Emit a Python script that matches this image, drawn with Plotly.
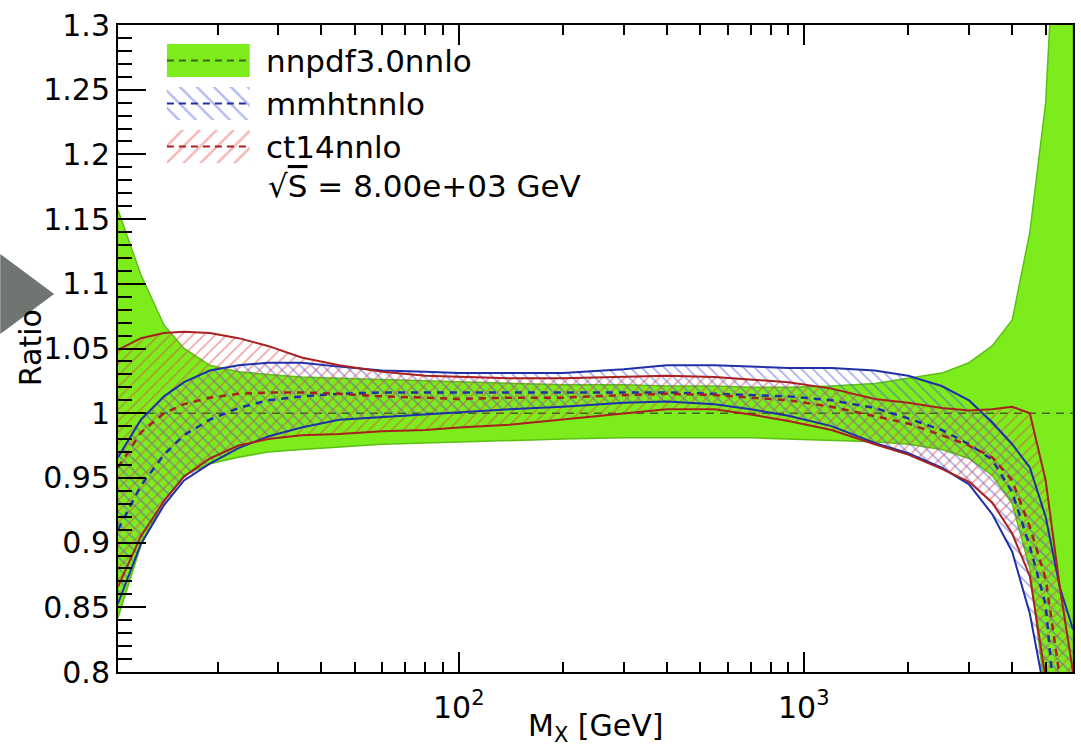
import math
import plotly.graph_objects as go

# ---------------- data ----------------
mass = [10.3, 12, 14, 16, 19, 23, 28, 35, 45, 60, 80, 100, 140, 200, 300, 400, 550,
        700, 900, 1200, 1600, 2000, 2500, 3000, 3500, 4000, 4500, 5000, 5500, 6000]

nnpdf_up = [1.157, 1.107, 1.068, 1.050, 1.037, 1.032, 1.030, 1.028, 1.027, 1.026, 1.025,
            1.024, 1.023, 1.022, 1.022, 1.021, 1.021, 1.020, 1.020, 1.021, 1.023, 1.027,
            1.031, 1.039, 1.052, 1.072, 1.14, 1.24, 1.45, 1.60]
nnpdf_c = [1.0] * len(mass)
nnpdf_lo = [0.842, 0.898, 0.933, 0.952, 0.961, 0.966, 0.970, 0.972, 0.974, 0.976, 0.977,
            0.978, 0.979, 0.980, 0.981, 0.981, 0.981, 0.981, 0.980, 0.979, 0.978, 0.976,
            0.972, 0.965, 0.952, 0.930, 0.88, 0.78, 0.65, 0.55]

mmht_up = [0.966, 0.995, 1.013, 1.024, 1.033, 1.037, 1.039, 1.039, 1.036, 1.033, 1.032,
           1.031, 1.031, 1.031, 1.034, 1.037, 1.037, 1.036, 1.035, 1.035, 1.033, 1.029,
           1.021, 1.010, 0.993, 0.976, 0.958, 0.920, 0.865, 0.833]
mmht_c = [0.910, 0.944, 0.968, 0.983, 0.995, 1.004, 1.010, 1.013, 1.015, 1.016, 1.016,
          1.016, 1.016, 1.016, 1.016, 1.016, 1.015, 1.014, 1.013, 1.010, 1.004, 0.996,
          0.987, 0.976, 0.964, 0.939, 0.897, 0.852, 0.72, 0.62]
mmht_lo = [0.853, 0.899, 0.929, 0.948, 0.961, 0.973, 0.982, 0.989, 0.995, 0.997, 0.999,
           1.001, 1.003, 1.005, 1.008, 1.009, 1.007, 1.003, 0.998, 0.990, 0.977, 0.969,
           0.958, 0.945, 0.922, 0.893, 0.845, 0.78, 0.65, 0.55]

ct14_up = [1.049, 1.058, 1.062, 1.063, 1.062, 1.058, 1.052, 1.043, 1.037, 1.032, 1.029,
           1.028, 1.027, 1.027, 1.028, 1.029, 1.028, 1.026, 1.024, 1.019, 1.011, 1.008,
           1.004, 1.002, 1.003, 1.005, 1.000, 0.948, 0.865, 0.80]
ct14_c = [0.958, 0.985, 1.000, 1.007, 1.012, 1.015, 1.016, 1.016, 1.015, 1.013, 1.012,
          1.011, 1.012, 1.012, 1.014, 1.015, 1.014, 1.012, 1.010, 1.005, 0.998, 0.992,
          0.983, 0.975, 0.966, 0.948, 0.912, 0.872, 0.795, 0.70]
ct14_lo = [0.866, 0.905, 0.932, 0.951, 0.965, 0.975, 0.980, 0.983, 0.984, 0.986, 0.987,
           0.989, 0.991, 0.995, 1.000, 1.003, 1.003, 0.999, 0.994, 0.987, 0.976, 0.968,
           0.957, 0.947, 0.931, 0.907, 0.874, 0.795, 0.70, 0.62]

labels = ["nnpdf3.0nnlo", "mmhtnnlo", "ct14nnlo"]
energy_label = "√<span style='text-decoration:overline'>S</span> = 8.00e+03 GeV"

y_tickvals = [0.8, 0.85, 0.9, 0.95, 1.0, 1.05, 1.1, 1.15, 1.2, 1.25, 1.3]
y_ticktext = ["0.8", "0.85", "0.9", "0.95", "1", "1.05", "1.1", "1.15", "1.2", "1.25", "1.3"]
x_tickvals = [100, 1000]
x_ticktext = ["10<sup>2</sup>", "10<sup>3</sup>"]
x_minor = [20, 30, 40, 50, 60, 70, 80, 90, 200, 300, 400, 500, 600, 700, 800, 900,
           2000, 3000, 4000, 5000]

# ---------------- style ----------------
FONT = "DejaVu Sans, Liberation Sans, Arial, sans-serif"
GREEN = "#7CEC1C"
GREEN_EDGE = "#5CC014"
GREEN_DASH = "#3E6420"
BLUE = "#2030A8"
BLUE_HATCH = "#4A58D8"
RED = "#A82020"
RED_HATCH = "#E04848"

W, H = 1081, 747
L, R, T, B = 118, 1075, 25, 672

fig = go.Figure()


def band(x, up, lo, **kw):
    return go.Scatter(x=list(x) + list(x)[::-1], y=list(up) + list(lo)[::-1],
                      mode="lines", fill="toself", hoverinfo="skip", showlegend=False, **kw)


def hatch(shape, color, size=8):
    return dict(shape=shape, fgcolor=color, bgcolor="rgba(0,0,0,0)", size=size, solidity=0.2)


# NNPDF band
fig.add_trace(band(mass, nnpdf_up, nnpdf_lo, fillcolor=GREEN,
                   line=dict(color=GREEN_EDGE, width=1.5)))
fig.add_trace(go.Scatter(x=mass, y=nnpdf_c, mode="lines", showlegend=False,
                         line=dict(color=GREEN_DASH, width=1.5, dash="8px,6px")))

# MMHT band (\ hatch) and CT14 band (/ hatch)
fig.add_trace(band(mass, mmht_up, mmht_lo, fillcolor="rgba(0,0,0,0)",
                   fillpattern=hatch("\\", BLUE_HATCH), line=dict(width=0)))
fig.add_trace(band(mass, ct14_up, ct14_lo, fillcolor="rgba(0,0,0,0)",
                   fillpattern=hatch("/", RED_HATCH), line=dict(width=0)))

for ys, col in [(mmht_up, BLUE), (mmht_lo, BLUE), (ct14_up, RED), (ct14_lo, RED)]:
    fig.add_trace(go.Scatter(x=mass, y=ys, mode="lines", showlegend=False,
                             line=dict(color=col, width=2)))
for ys, col in [(mmht_c, BLUE), (ct14_c, RED)]:
    fig.add_trace(go.Scatter(x=mass, y=ys, mode="lines", showlegend=False,
                             line=dict(color=col, width=2.5, dash="7px,6px")))

# ---------------- custom legend (overlay axes in pixel units) ----------------
box_x0, box_x1 = 167, 250
rows = [(44, 77), (87, 120), (130, 163)]
leg_styles = [
    dict(fillcolor=GREEN, pattern=None, dash=GREEN_DASH),
    dict(fillcolor="rgba(0,0,0,0)", pattern=hatch("\\", "#6A74E4", 12), dash=BLUE),
    dict(fillcolor="rgba(0,0,0,0)", pattern=hatch("/", "#EC6A6A", 12), dash=RED),
]
for (y0, y1), st, lab in zip(rows, leg_styles, labels):
    kw = dict(x=[box_x0, box_x1, box_x1, box_x0, box_x0], y=[y0, y0, y1, y1, y0],
              mode="lines", fill="toself", fillcolor=st["fillcolor"], line=dict(width=0),
              xaxis="x2", yaxis="y2", showlegend=False, hoverinfo="skip")
    if st["pattern"]:
        kw["fillpattern"] = st["pattern"]
    fig.add_trace(go.Scatter(**kw))
    ym = (y0 + y1) / 2
    fig.add_trace(go.Scatter(x=[box_x0, box_x1], y=[ym, ym], mode="lines",
                             line=dict(color=st["dash"], width=2, dash="7px,5px"),
                             xaxis="x2", yaxis="y2", showlegend=False, hoverinfo="skip"))
    fig.add_annotation(x=264, y=ym, xref="x2", yref="y2", text=lab, showarrow=False,
                       xanchor="left", yanchor="middle",
                       font=dict(family=FONT, size=31, color="black"))
fig.add_annotation(x=266, y=186, xref="x2", yref="y2", text=energy_label, showarrow=False,
                   xanchor="left", yanchor="middle", font=dict(family=FONT, size=31, color="black"))


def px2paper(px, py):
    return (px - L) / (R - L), (B - py) / (B - T)


# x tick labels (10^2, 10^3) placed just below the axis
_, ly = px2paper(0, 705)
for v, t in zip(x_tickvals, x_ticktext):
    fig.add_annotation(x=math.log10(v), y=ly, xref="x", yref="paper", text=t,
                       showarrow=False, xanchor="center", yanchor="middle",
                       font=dict(family=FONT, size=30, color="black"))

# axis titles
ax, ay = px2paper(30, 348)
fig.add_annotation(x=ax, y=ay, xref="paper", yref="paper", text="Ratio", textangle=-90,
                   showarrow=False, xanchor="center", yanchor="middle",
                   font=dict(family=FONT, size=30, color="black"))
tx, ty = px2paper(596, 727)
fig.add_annotation(x=tx, y=ty, xref="paper", yref="paper", text="M<sub>X</sub> [GeV]",
                   showarrow=False, xanchor="center", yanchor="middle",
                   font=dict(family=FONT, size=30, color="black"))

# grey play-button triangle at the left edge (part of the picture)
p = [px2paper(0, 254), px2paper(54, 294), px2paper(0, 334)]
fig.add_shape(type="path", xref="paper", yref="paper",
              path=f"M {p[0][0]} {p[0][1]} L {p[1][0]} {p[1][1]} L {p[2][0]} {p[2][1]} Z",
              fillcolor="#6F7672", line=dict(width=0), layer="above")

fig.update_layout(
    width=W, height=H,
    margin=dict(l=L, r=W - R, t=T, b=H - B),
    paper_bgcolor="white", plot_bgcolor="white",
    showlegend=False,
    font=dict(family=FONT, color="black"),
    xaxis=dict(type="log", range=[math.log10(10.3), math.log10(6000)], showgrid=False,
               zeroline=False, showline=True, linecolor="black", linewidth=2,
               mirror="allticks", ticks="inside", ticklen=20, tickwidth=2,
               tickcolor="black", tickvals=x_tickvals, ticktext=x_ticktext,
               showticklabels=False,
               minor=dict(tickmode="array", tickvals=x_minor, ticks="inside", ticklen=10,
                          tickwidth=2, tickcolor="black", showgrid=False)),
    yaxis=dict(range=[0.8, 1.3], showgrid=False, zeroline=False,
               showline=True, linecolor="black", linewidth=2, mirror=True,
               ticks="inside", ticklen=28, tickwidth=2, tickcolor="black",
               tickvals=y_tickvals, ticktext=y_ticktext,
               tickfont=dict(family=FONT, size=30),
               minor=dict(dtick=0.01, tick0=0.8, ticks="inside", ticklen=14, tickwidth=2,
                          tickcolor="black", showgrid=False)),
    xaxis2=dict(range=[L, R], overlaying="x", visible=False, anchor="y2"),
    yaxis2=dict(range=[B, T], overlaying="y", visible=False, anchor="x2"),
)

fig.write_html("out.html", config={"displayModeBar": False},
               post_script="document.body.style.margin='0';document.body.style.padding='0';")
